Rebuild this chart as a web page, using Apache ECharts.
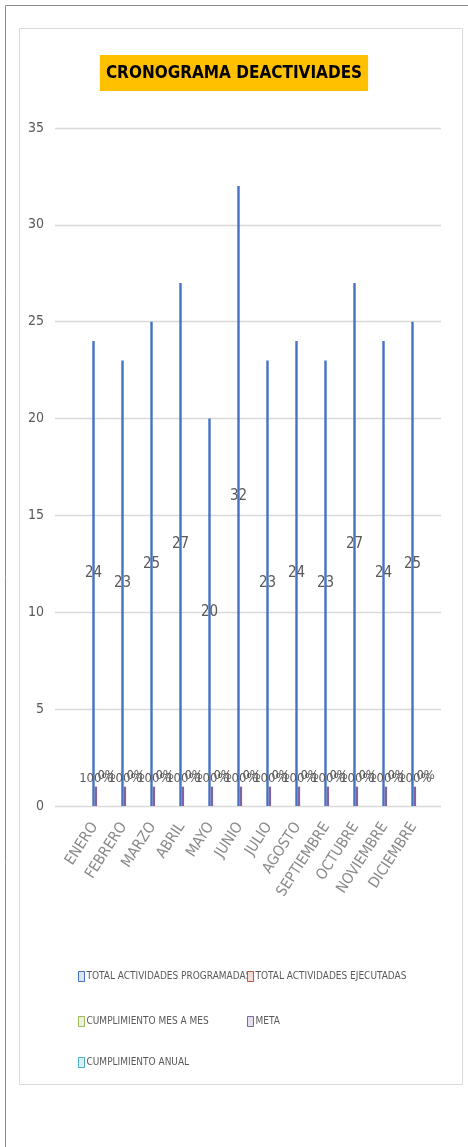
<!DOCTYPE html>
<html>
<head>
<meta charset="utf-8">
<script src="https://cdn.jsdelivr.net/npm/echarts@6/dist/echarts.min.js"></script>
<style>html,body{margin:0;padding:0;background:#fff;}#c{width:468px;height:1147px;}</style>
</head>
<body>
<div id="c"></div>
<script>
const categories = ['ENERO','FEBRERO','MARZO','ABRIL','MAYO','JUNIO','JULIO','AGOSTO','SEPTIEMBRE','OCTUBRE','NOVIEMBRE','DICIEMBRE'];
const programadas = [24,23,25,27,20,32,23,24,23,27,24,25];
const ejecutadas = [0,0,0,0,0,0,0,0,0,0,0,0];
const cumplimientoMes = [0,0,0,0,0,0,0,0,0,0,0,0];
const meta = [1,1,1,1,1,1,1,1,1,1,1,1];
const cumplimientoAnual = [0,0,0,0,0,0,0,0,0,0,0,0];
const yTicks = [0,5,10,15,20,25,30,35];

const FONT = "'DejaVu Sans Condensed','Liberation Sans Narrow',sans-serif";
const GRAY = '#595959';
const names = ['TOTAL ACTIVIDADES PROGRAMADAS','TOTAL ACTIVIDADES EJECUTADAS','CUMPLIMIENTO MES A MES','META','CUMPLIMIENTO ANUAL'];
const colors = ['#4472C4','#C0504D','#9BBB59','#8064A2','#4BACC6'];
const fills = ['#dbe5f4','#f4dcdb','#ebf1de','#e4dfec','#daeef3'];

const chart = echarts.init(document.getElementById('c'), null, {renderer:'canvas'});
function legendAt(i, left, top){
  return {
    left: left, top: top, orient:'horizontal', itemWidth:6, itemHeight:10, itemGap:0,
    icon:'rect', selectedMode:false,
    textStyle:{fontFamily:FONT, fontSize:10, color:GRAY, padding:[0,0,0,-3]},
    data:[{name:names[i], itemStyle:{color:fills[i], borderColor:colors[i], borderWidth:1}}]
  };
}
const yMin = yTicks[0], yMax = yTicks[yTicks.length-1];
chart.setOption({
  animation:false,
  backgroundColor:'#fff',
  title:{
    text:'CRONOGRAMA DEACTIVIADES', left:'center', top:55,
    backgroundColor:'#FFC000', padding:[10,6,9,6],
    textStyle:{fontFamily:FONT, fontWeight:'bold', fontSize:17, color:'#000'}
  },
  graphic:[
    {type:'rect', shape:{x:5.5,y:5.5,width:480,height:1160}, style:{fill:'none', stroke:'#8c8c8c', lineWidth:1}, silent:true, z:-10},
    {type:'rect', shape:{x:19.5,y:28.5,width:443,height:1056}, style:{fill:'none', stroke:'#d9d9d9', lineWidth:1}, silent:true, z:-10}
  ],
  legend:[
    legendAt(0, 73, 966),
    legendAt(1, 242, 966),
    legendAt(2, 73, 1011),
    legendAt(3, 242, 1011),
    legendAt(4, 73, 1052)
  ],
  grid:[
    {left:55, right:27, top:128, bottom:341},
    {left:80.2, width:348, top:128, bottom:341}
  ],
  xAxis:[
    {type:'category', gridIndex:0, data:categories, show:false},
    {type:'category', gridIndex:1, data:categories,
      axisLine:{show:false}, axisTick:{show:false},
      axisLabel:{interval:0, rotate:57, fontFamily:FONT, fontSize:15, color:'#8a8a8a', margin:18}},
    {type:'category', gridIndex:1, data:categories, show:false}
  ],
  yAxis:[
    {type:'value', gridIndex:0, min:yMin, max:yMax, interval:5,
      axisLine:{show:false}, axisTick:{show:false},
      axisLabel:{fontFamily:FONT, fontSize:14, color:GRAY, margin:11},
      splitLine:{lineStyle:{color:'#d9d9d9', width:1.3}}},
    {type:'value', gridIndex:1, min:yMin, max:yMax, interval:5, show:false, splitLine:{show:false}},
    {type:'value', gridIndex:1, min:yMin, max:yMax, interval:5, show:false, splitLine:{show:false}}
  ],
  series:[
    {name:names[0], type:'bar', xAxisIndex:1, yAxisIndex:1, data:programadas, barWidth:2.4, barGap:'0%',
      itemStyle:{color:colors[0]},
      label:{show:true, position:'inside', fontFamily:FONT, fontSize:15, color:GRAY}},
    {name:names[3], type:'bar', xAxisIndex:1, yAxisIndex:1, data:meta, barWidth:2.4, barGap:'0%',
      itemStyle:{color:colors[3]},
      label:{show:true, position:'top', distance:2, formatter:'100%', fontFamily:FONT, fontSize:13, color:GRAY}},
    {name:names[1], type:'bar', xAxisIndex:2, yAxisIndex:2, data:ejecutadas, barWidth:2, barGap:'0%',
      itemStyle:{color:colors[1]}, label:{show:false}},
    {name:names[2], type:'bar', xAxisIndex:2, yAxisIndex:2, data:cumplimientoMes, barWidth:2, barGap:'0%',
      itemStyle:{color:colors[2]},
      label:{show:true, position:'top', offset:[12,-19], formatter:'0%', fontFamily:FONT, fontSize:13, color:GRAY}},
    {name:names[4], type:'bar', xAxisIndex:2, yAxisIndex:2, data:cumplimientoAnual, barWidth:2, barGap:'0%',
      itemStyle:{color:colors[4]}, label:{show:false}}
  ]
});
</script>
</body>
</html>
